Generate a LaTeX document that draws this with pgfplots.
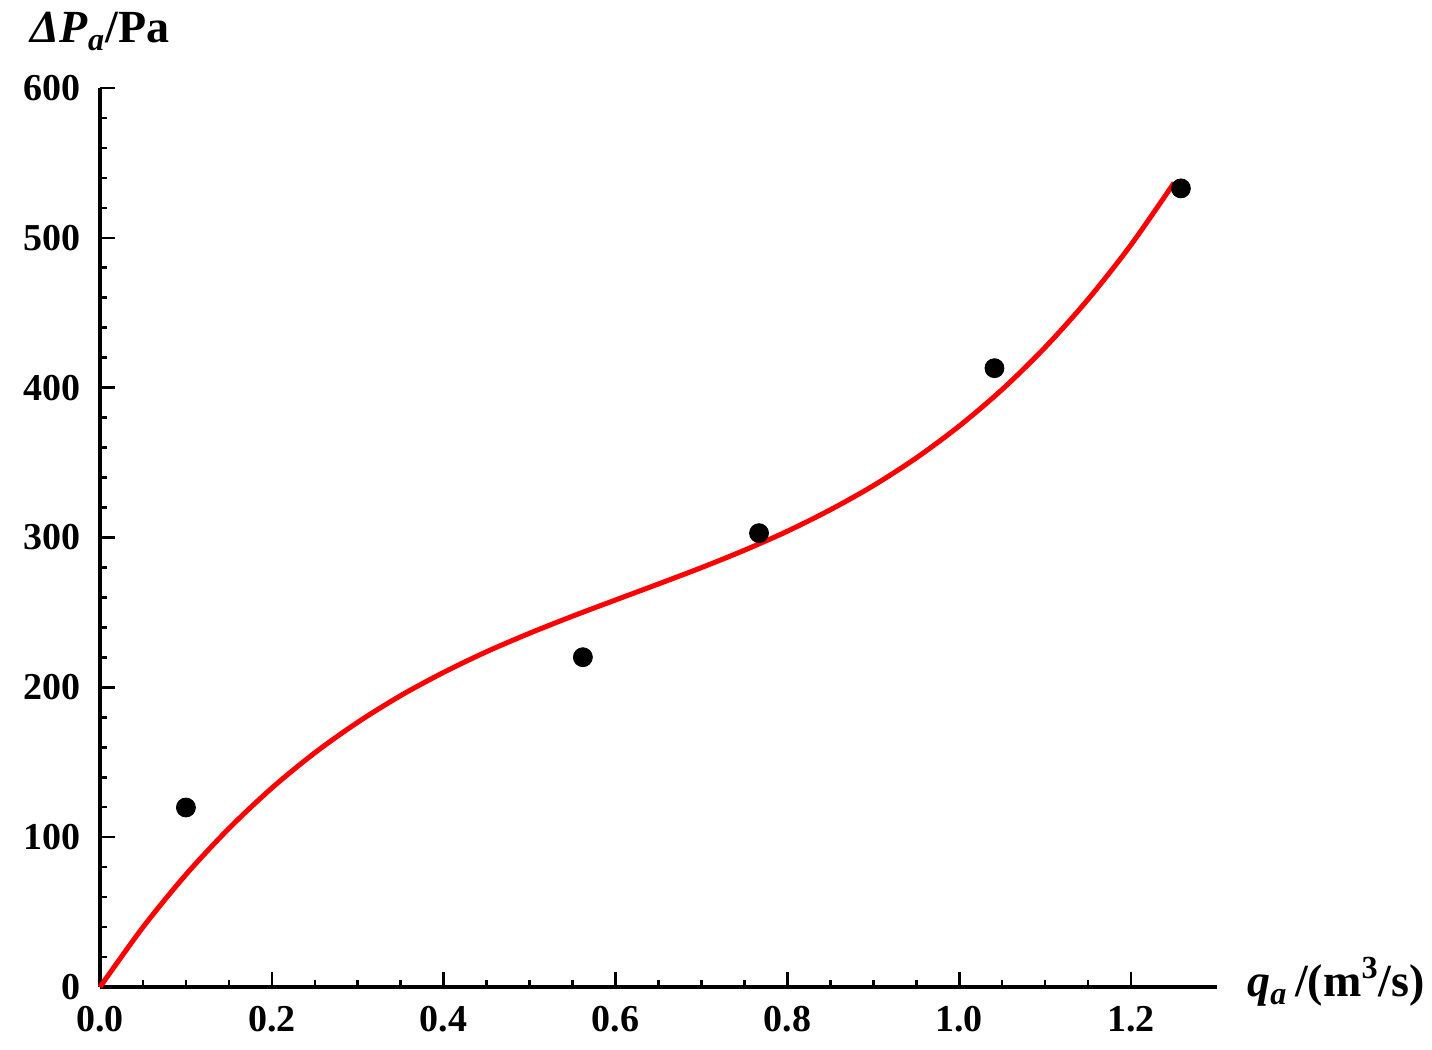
\documentclass[border=0pt]{standalone}
\usepackage{fontspec}
\setmainfont{Liberation Serif}
\usepackage{pgfplots}
\pgfplotsset{compat=1.18}

\begin{document}
\begin{tikzpicture}
\useasboundingbox (-50pt,-31.5pt) rectangle (666pt,493.5pt);
\begin{axis}[
    scale only axis,
    width=558.5pt, height=449.5pt,
    xmin=0, xmax=1.3, ymin=0, ymax=600,
    axis lines=left,
    x axis line style={-}, y axis line style={-},
    axis line style={line width=1.6pt},
    tick align=inside,
    xtick={0,0.2,0.4,0.6,0.8,1.0,1.2},
    ytick={0,100,200,300,400,500,600},
    minor x tick num=3, minor y tick num=4,
    major tick length=7.5pt, minor tick length=3.5pt,
    every tick/.style={black, line width=1.3pt},
    /pgf/number format/assume math mode=true,
    ticklabel style={font=\fontsize{19}{21}\selectfont\bfseries},
    xticklabel style={yshift=-6pt, /pgf/number format/.cd, fixed, fixed zerofill, precision=1},
    yticklabel style={xshift=-6pt, /pgf/number format/.cd, fixed, precision=0},
    every axis x label/.style={at={(axis description cs:1,0)}, anchor=base west,
        xshift=15pt, yshift=-5pt, inner sep=0pt},
    every axis y label/.style={at={(axis description cs:0,1)}, anchor=base,
        yshift=22.5pt, inner sep=0pt},
    label style={font=\fontsize{23}{26}\selectfont\bfseries},
    xlabel={\textit{q}\textsubscript{\textit{a}}\,/(m\textsuperscript{3}/s)},
    ylabel={\textit{ΔP}\textsubscript{\textit{a}}/Pa},
    clip=false,
]
% fitted curve
\addplot[red, line width=2.5pt, smooth] coordinates {
    (0,0) (0.05,39.9) (0.10,75.0) (0.15,105.8) (0.20,132.8) (0.25,156.3)
    (0.30,176.7) (0.35,194.5) (0.40,210.0) (0.45,223.8) (0.50,236.1)
    (0.55,247.5) (0.60,258.3) (0.65,269.0) (0.70,279.9) (0.75,291.5)
    (0.80,304.2) (0.85,318.5) (0.90,334.6) (0.95,353.1) (1.00,374.4)
    (1.05,398.8) (1.10,426.9) (1.15,459.0) (1.20,495.4) (1.25,536.7)
};
% measured points
\addplot[only marks, mark=*, mark size=4.75pt, black] coordinates {
    (0.100,119.8) (0.562,220.1) (0.767,302.9) (1.041,413.0) (1.258,533.0)
};
\end{axis}
\end{tikzpicture}
\end{document}
